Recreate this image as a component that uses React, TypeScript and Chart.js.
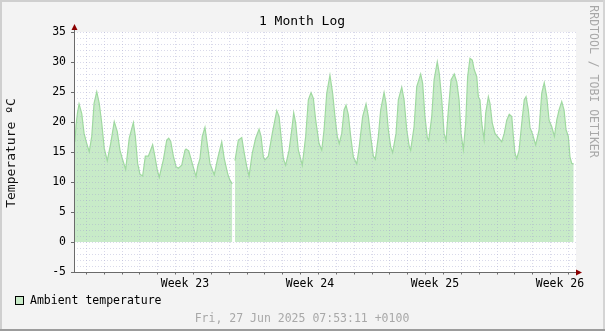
import React, { useEffect, useRef } from "react";
import { Chart, registerables } from "chart.js";

Chart.register(...registerables);

// Time in days relative to the start of Week 23 (Monday 00:00)
const times: number[] = [
  -6.61, -6.55, -6.47, -6.38, -6.23, -6.10, -5.95, -5.81, -5.67, -5.54,
  -5.39, -5.25, -5.11, -4.97, -4.80, -4.61, -4.41, -4.24, -4.09, -3.94,
  -3.77, -3.57, -3.34, -3.23, -3.10, -2.97, -2.82, -2.67, -2.50, -2.26,
  -2.13, -2.00, -1.89, -1.66, -1.47, -1.36, -1.25, -1.10, -0.95, -0.82,
  -0.63, -0.45, -0.39, -0.24, -0.07, 0.17, 0.26, 0.39, 0.52, 0.67,
  0.82, 0.95, 1.19, 1.38, 1.61, 1.75, 1.94, 2.07, 2.20, 2.30,
  2.35, 2.54, 2.73, 2.87, 3.01, 3.14, 3.32, 3.51, 3.70, 3.81,
  3.94, 4.03, 4.22, 4.44, 4.69, 4.82, 4.93, 5.06, 5.19, 5.38,
  5.53, 5.64, 5.75, 5.90, 6.12, 6.31, 6.46, 6.61, 6.74, 6.87,
  7.06, 7.21, 7.34, 7.49, 7.67, 7.82, 7.95, 8.08, 8.19, 8.33,
  8.46, 8.57, 8.70, 8.83, 8.98, 9.17, 9.31, 9.50, 9.69, 9.82,
  9.95, 10.10, 10.21, 10.38, 10.51, 10.70, 10.81, 10.94, 11.07, 11.18,
  11.37, 11.50, 11.69, 11.82, 11.97, 12.11, 12.19, 12.38, 12.53, 12.75,
  12.86, 12.99, 13.12, 13.20, 13.37, 13.50, 13.68, 13.79, 13.93, 14.06,
  14.17, 14.30, 14.45, 14.63, 14.77, 14.90, 15.01, 15.14, 15.27, 15.38,
  15.51, 15.64, 15.75, 15.89, 15.98, 16.07, 16.17, 16.30, 16.39, 16.54,
  16.63, 16.76, 16.91, 17.10, 17.29, 17.43, 17.57, 17.71, 17.85, 17.94,
  18.03, 18.13, 18.26, 18.41, 18.55, 18.65, 18.78, 18.87, 19.00, 19.19,
  19.38, 19.53, 19.67, 19.81, 19.94, 20.09, 20.24, 20.37, 20.50, 20.65,
  20.78, 20.89, 21.02, 21.11, 21.21, 21.32,
];

// Ambient temperature in °C (null = missing sample)
const temps: (number | null)[] = [
  16.7, 19.5, 21.5, 23.0, 21.4, 18.1, 16.4, 15.05, 17.6, 23.1,
  25.05, 23.1, 19.8, 15.6, 13.55, 16.4, 20.05, 18.4, 15.3, 13.7,
  12.1, 17.3, 19.9, 17.6, 13.1, 11.3, 11.0, 14.3, 14.3, 16.2,
  14.2, 12.0, 10.8, 13.7, 17.0, 17.3, 16.8, 14.3, 12.55, 12.3,
  12.8, 15.3, 15.5, 15.2, 13.4, 10.9, 12.55, 13.9, 17.6, 19.1,
  15.9, 13.1, 11.2, 13.9, 16.7, 13.9, 11.4, 10.3, 9.7, null,
  13.55, 17.0, 17.4, 14.8, 12.55, 11.0, 14.8, 17.3, 18.8, 17.6,
  14.2, 13.7, 14.3, 18.1, 21.9, 20.9, 17.6, 13.9, 12.8, 15.3,
  18.7, 21.55, 19.8, 15.3, 12.8, 17.6, 23.7, 24.9, 23.95, 20.3,
  16.4, 15.3, 18.7, 24.8, 27.8, 24.8, 20.9, 17.6, 16.4, 18.1,
  22.0, 22.8, 21.2, 17.6, 14.2, 13.0, 15.9, 20.9, 23.0, 20.9,
  17.6, 14.3, 13.8, 17.6, 22.0, 24.9, 23.1, 18.7, 15.9, 14.9,
  18.1, 23.7, 25.8, 23.7, 18.7, 15.9, 15.3, 19.2, 25.9, 28.0,
  26.45, 20.9, 17.4, 16.9, 20.9, 27.0, 30.05, 28.1, 23.7, 18.1,
  16.9, 22.0, 27.0, 28.0, 26.7, 23.7, 18.1, 15.4, 19.8, 27.55,
  30.6, 30.3, 28.7, 27.55, 24.2, 23.7, 19.8, 17.1, 21.45, 24.2,
  23.1, 19.8, 18.1, 17.4, 16.7, 18.1, 20.3, 21.3, 20.9, 17.6,
  14.8, 13.9, 15.3, 19.8, 23.7, 24.2, 22.0, 19.1, 18.1, 16.2,
  18.7, 24.8, 26.55, 24.2, 20.3, 19.2, 17.6, 20.3, 22.0, 23.4,
  22.0, 18.7, 17.6, 14.2, 13.1, 13.0,
];

// Week label positions (days) and texts
const weekLabelPos: number[] = [-0.45, 6.55, 13.55, 20.55];
const weekLabels: string[] = ["Week 23", "Week 24", "Week 25", "Week 26"];
const yTicks: number[] = [-5, 0, 5, 10, 15, 20, 25, 30, 35];

const X_MIN = -6.664;
const X_MAX = 21.448;
const Y_MIN = -5;
const Y_MAX = 35;

const TITLE = "1 Month Log";
const Y_TITLE = "Temperature ºC";
const LEGEND = "Ambient temperature";
const FOOTER = "Fri, 27 Jun 2025 07:53:11 +0100";
const WATERMARK = "RRDTOOL / TOBI OETIKER";

const MONO = '"DejaVu Sans Mono", monospace';
const FILL = "rgb(200, 235, 200)";
const EDGE = "rgb(160, 218, 160)";
const GRID = "rgba(165,165,205,0.42)";

const rrdPlugin = {
  id: "rrdDecor",
  beforeDraw(chart: any) {
    const ctx = chart.ctx as CanvasRenderingContext2D;
    const W = chart.width;
    const H = chart.height;
    const a = chart.chartArea;
    ctx.save();
    ctx.fillStyle = "#f3f3f3";
    ctx.fillRect(0, 0, W, H);
    ctx.fillStyle = "#cfcfcf";
    ctx.fillRect(0, 0, W, 2);
    ctx.fillRect(0, 0, 2, H);
    ctx.fillStyle = "#d4d4d4";
    ctx.fillRect(W - 2, 0, 2, H);
    ctx.fillStyle = "#9c9c9c";
    ctx.fillRect(0, H - 2, W, 2);
    ctx.fillStyle = "#ffffff";
    ctx.fillRect(a.left, a.top, a.right - a.left, a.bottom - a.top);
    ctx.restore();
  },
  afterDatasetsDraw(chart: any) {
    const ctx = chart.ctx as CanvasRenderingContext2D;
    const a = chart.chartArea;
    const xs = chart.scales.x;
    const ys = chart.scales.y;
    ctx.save();
    ctx.lineWidth = 1;
    ctx.setLineDash([1, 2]);
    ctx.strokeStyle = GRID;
    for (let v = Y_MIN + 1; v <= Y_MAX; v++) {
      const y = Math.round(ys.getPixelForValue(v)) + 0.5;
      ctx.beginPath();
      ctx.moveTo(a.left, y);
      ctx.lineTo(a.right, y);
      ctx.stroke();
    }
    for (let d = Math.ceil(X_MIN); d <= Math.floor(X_MAX); d++) {
      const x = Math.round(xs.getPixelForValue(d)) + 0.5;
      ctx.beginPath();
      ctx.moveTo(x, a.top);
      ctx.lineTo(x, a.bottom);
      ctx.stroke();
    }
    ctx.setLineDash([]);

    // axes
    const ax = a.left + 0.5;
    const ay = Math.round(ys.getPixelForValue(Y_MIN)) + 0.5;
    ctx.strokeStyle = "#6a6a6a";
    ctx.beginPath();
    ctx.moveTo(ax, ay);
    ctx.lineTo(ax, a.top - 4);
    ctx.moveTo(a.left - 3, ay);
    ctx.lineTo(a.right + 2, ay);
    ctx.stroke();
    ctx.beginPath();
    for (const v of yTicks) {
      const y = Math.round(ys.getPixelForValue(v)) + 0.5;
      ctx.moveTo(a.left - 3, y);
      ctx.lineTo(a.left, y);
    }
    for (let d = Math.ceil(X_MIN); d <= Math.floor(X_MAX); d++) {
      const x = Math.round(xs.getPixelForValue(d)) + 0.5;
      ctx.moveTo(x, ay);
      ctx.lineTo(x, ay + 2);
    }
    ctx.stroke();
    // arrows
    ctx.fillStyle = "#8b0000";
    ctx.beginPath();
    ctx.moveTo(ax, a.top - 8);
    ctx.lineTo(ax - 3, a.top - 2);
    ctx.lineTo(ax + 3, a.top - 2);
    ctx.closePath();
    ctx.fill();
    ctx.beginPath();
    ctx.moveTo(a.right + 6, ay);
    ctx.lineTo(a.right, ay - 3);
    ctx.lineTo(a.right, ay + 3);
    ctx.closePath();
    ctx.fill();

    // title
    ctx.fillStyle = "#000";
    ctx.textAlign = "center";
    ctx.textBaseline = "middle";
    ctx.font = `13px ${MONO}`;
    ctx.fillText(TITLE, 302, 22);

    // y title
    ctx.save();
    ctx.translate(12, 153);
    ctx.rotate(-Math.PI / 2);
    ctx.font = `13px ${MONO}`;
    ctx.fillStyle = "#111";
    ctx.fillText(Y_TITLE, 0, 0);
    ctx.restore();

    // watermark
    ctx.save();
    ctx.translate(593, 81.5);
    ctx.rotate(Math.PI / 2);
    ctx.font = `11.5px ${MONO}`;
    ctx.fillStyle = "#a8a8a8";
    ctx.fillText(WATERMARK, 0, 0);
    ctx.restore();

    // legend
    ctx.fillStyle = FILL;
    ctx.fillRect(16, 297, 8, 8);
    ctx.strokeStyle = "#000";
    ctx.lineWidth = 1;
    ctx.strokeRect(15.5, 296.5, 8, 8);
    ctx.fillStyle = "#000";
    ctx.textAlign = "left";
    ctx.font = `11.5px ${MONO}`;
    ctx.fillText(LEGEND, 30, 301.5);

    // footer
    ctx.fillStyle = "#a8a8a8";
    ctx.textAlign = "center";
    ctx.fillText(FOOTER, 302, 319);
    ctx.restore();
  },
};

export default function App() {
  const ref = useRef<HTMLCanvasElement | null>(null);

  useEffect(() => {
    document.body.style.margin = "0";
    if (!ref.current) return;
    const points = times.map((t, i) => ({ x: t, y: temps[i] }));
    const chart = new Chart(ref.current, {
      type: "line",
      data: {
        datasets: [
          {
            label: LEGEND,
            data: points as any,
            borderColor: EDGE,
            backgroundColor: FILL,
            borderWidth: 1.2,
            pointRadius: 0,
            tension: 0,
            fill: "origin",
            spanGaps: false,
          },
        ],
      },
      options: {
        animation: false,
        responsive: false,
        maintainAspectRatio: false,
        layout: { padding: { left: 0, right: 29, top: 32, bottom: 0 } },
        plugins: {
          legend: { display: false },
          title: { display: false },
          tooltip: { enabled: false },
        },
        scales: {
          x: {
            type: "linear",
            min: X_MIN,
            max: X_MAX,
            grid: { display: false, drawTicks: false },
            border: { display: false },
            afterBuildTicks: (s: any) => {
              s.ticks = weekLabelPos.map((v) => ({ value: v }));
            },
            afterFit: (s: any) => {
              s.height = 59;
            },
            ticks: {
              autoSkip: false,
              maxRotation: 0,
              padding: 5,
              color: "#000",
              font: { family: MONO, size: 11.5 },
              callback: (v: any) => {
                const i = weekLabelPos.indexOf(Number(v));
                return i >= 0 ? weekLabels[i] : "";
              },
            },
          },
          y: {
            type: "linear",
            min: Y_MIN,
            max: Y_MAX,
            grid: { display: false, drawTicks: false },
            border: { display: false },
            afterBuildTicks: (s: any) => {
              s.ticks = yTicks.map((v) => ({ value: v }));
            },
            afterFit: (s: any) => {
              s.width = 74;
            },
            ticks: {
              autoSkip: false,
              padding: 8,
              color: "#000",
              font: { family: MONO, size: 11.5 },
              callback: (v: any) => String(v),
            },
          },
        },
      },
      plugins: [rrdPlugin],
    });
    return () => chart.destroy();
  }, []);

  return (
    <div style={{ width: 605, height: 331 }}>
      <canvas ref={ref} width={605} height={331} style={{ display: "block" }} />
    </div>
  );
}
